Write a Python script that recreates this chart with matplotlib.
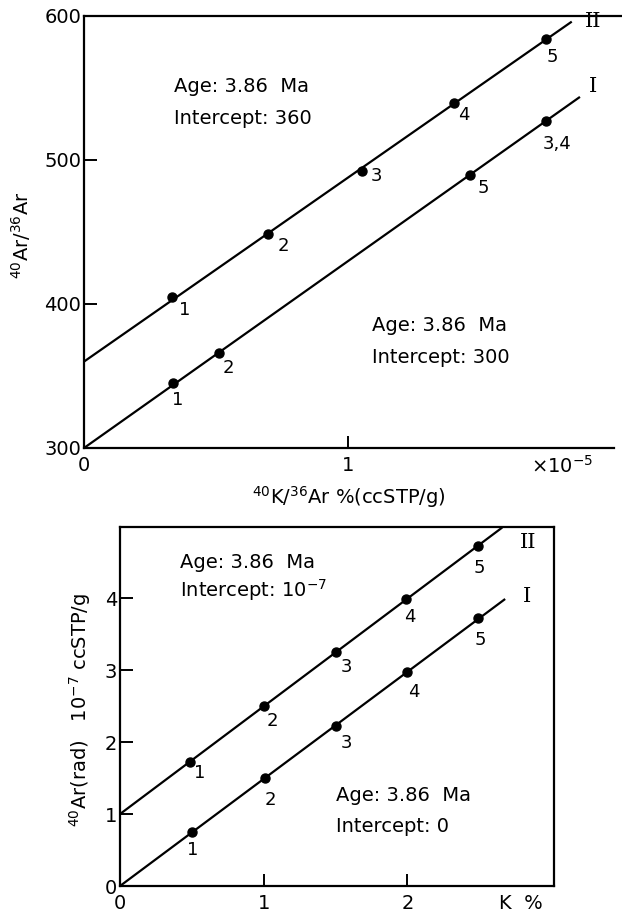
import numpy as np
import matplotlib
matplotlib.use("Agg")
import matplotlib.pyplot as plt

plt.rcParams['font.family'] = ['DejaVu Sans']

# ---------------- data: top panel (40Ar/36Ar vs 40K/36Ar) ----------------
top_II_x = [0.333, 0.697, 1.053, 1.40, 1.75]
top_II_y = [404.9, 448.6, 492.4, 539.6, 584.0]
top_II_labels = ["1", "2", "3", "4", "5"]
top_II_intercept = 360
top_II_xend = 1.848

top_I_x = [0.337, 0.511, 1.462, 1.75]
top_I_y = [345.1, 366.0, 489.6, 527.0]
top_I_labels = ["1", "2", "5", "3,4"]
top_I_intercept = 300
top_I_xend = 1.879

top_yticks = [300, 400, 500, 600]
top_xticks = [0, 1]

# ---------------- data: bottom panel (40Ar(rad) vs K %) ----------------
bot_II_x = [0.49, 1.0, 1.5, 1.99, 2.49]
bot_II_y = [1.72, 2.50, 3.25, 3.99, 4.72]
bot_II_labels = ["1", "2", "3", "4", "5"]
bot_II_intercept = 1.0
bot_II_xend = 2.66

bot_I_x = [0.50, 1.01, 1.50, 2.0, 2.49]
bot_I_y = [0.75, 1.50, 2.22, 2.97, 3.72]
bot_I_labels = ["1", "2", "3", "4", "5"]
bot_I_intercept = 0.0
bot_I_xend = 2.68

bot_yticks = [0, 1, 2, 3, 4]
bot_xticks = [0, 1, 2]

# label offsets (pixels) for point numbers
top_II_off = [(13, -13), (15, -12), (15, -5), (10, -12), (6, -18)]
top_I_off = [(5, -17), (9, -15), (13, -13), (11, -23)]
bot_II_off = [(9, -11), (9, -15), (11, -15), (4, -18), (1, -22)]
bot_I_off = [(1, -18), (5, -22), (11, -17), (6, -20), (2, -22)]

FS = 14
W, H = 622, 914
fig = plt.figure(figsize=(W / 100, H / 100), dpi=100)


def fit_slope(xs, ys, b):
    xs = np.asarray(xs)
    ys = np.asarray(ys) - b
    return float(np.sum(xs * ys) / np.sum(xs * xs))


def draw_series(ax, xs, ys, labels, offs, b, xend):
    m = fit_slope(xs, ys, b)
    lx = np.array([0, xend])
    ax.plot(lx, b + m * lx, color='black', lw=1.6, solid_capstyle='butt', clip_on=False)
    ax.plot(xs, ys, 'o', color='black', ms=6.5, clip_on=False)
    for x, y, t, o in zip(xs, ys, labels, offs):
        ax.annotate(t, (x, y), xytext=o, textcoords='offset pixels',
                    ha='center', va='center', fontsize=FS - 1)
    return m


# ---------------- top axes ----------------
ax1 = fig.add_axes([84 / W, 1 - 448 / H, (614 - 84) / W, (448 - 16) / H])
ax1.set_xlim(0, 2.008)
ax1.set_ylim(300, 600)
for s in ['left', 'bottom', 'top']:
    ax1.spines[s].set_linewidth(1.6)
ax1.spines['right'].set_visible(False)
ax1.spines['top'].set_bounds(0, 2.06)
ax1.set_yticks(top_yticks)
ax1.set_xticks(top_xticks)
ax1.set_yticklabels([str(v) for v in top_yticks], fontsize=FS)
ax1.set_xticklabels(["0", "1"], fontsize=FS)
ax1.tick_params(direction='in', length=9, width=1.4, pad=2)
ax1.tick_params(axis='x', pad=6)

draw_series(ax1, top_II_x, top_II_y, top_II_labels, top_II_off, top_II_intercept, top_II_xend)
draw_series(ax1, top_I_x, top_I_y, top_I_labels, top_I_off, top_I_intercept, top_I_xend)

ax1.text(1.93, 596, "II", fontsize=FS + 1, ha='center', va='center', family='DejaVu Serif')
ax1.text(1.93, 551, "I", fontsize=FS + 1, ha='center', va='center', family='DejaVu Serif')

ax1.text(0.34, 551, "Age: 3.86  Ma", fontsize=FS, ha='left', va='center')
ax1.text(0.34, 529, "Intercept: 360", fontsize=FS, ha='left', va='center')
ax1.text(1.09, 385, "Age: 3.86  Ma", fontsize=FS, ha='left', va='center')
ax1.text(1.09, 363, "Intercept: 300", fontsize=FS, ha='left', va='center')

ax1.text(1.81, -0.042, r"$\times10^{-5}$", transform=ax1.get_xaxis_transform(),
         fontsize=FS, ha='center', va='center')
ax1.set_xlabel(r"$^{40}$K/$^{36}$Ar %(ccSTP/g)", fontsize=FS, labelpad=6)
ax1.set_ylabel(r"$^{40}$Ar/$^{36}$Ar", fontsize=FS)
ax1.yaxis.set_label_coords(-0.096, 0.493)

# ---------------- bottom axes ----------------
ax2 = fig.add_axes([120 / W, 1 - 886 / H, (554 - 120) / W, (886 - 527) / H])
ax2.set_xlim(0, 3.02)
ax2.set_ylim(0, 4.99)
for s in ax2.spines.values():
    s.set_linewidth(1.6)
ax2.set_yticks(bot_yticks)
ax2.set_xticks(bot_xticks)
ax2.set_yticklabels([str(v) for v in bot_yticks], fontsize=FS)
ax2.set_xticklabels([str(v) for v in bot_xticks], fontsize=FS)
ax2.tick_params(direction='in', length=9, width=1.4, pad=2)
ax2.tick_params(axis='x', pad=6)

draw_series(ax2, bot_II_x, bot_II_y, bot_II_labels, bot_II_off, bot_II_intercept, bot_II_xend)
draw_series(ax2, bot_I_x, bot_I_y, bot_I_labels, bot_I_off, bot_I_intercept, bot_I_xend)

ax2.text(2.84, 4.78, "II", fontsize=FS + 1, ha='center', va='center', family='DejaVu Serif')
ax2.text(2.83, 4.03, "I", fontsize=FS + 1, ha='center', va='center', family='DejaVu Serif')

ax2.text(0.42, 4.50, "Age: 3.86  Ma", fontsize=FS, ha='left', va='center')
ax2.text(0.42, 4.11, r"Intercept: 10$^{-7}$", fontsize=FS, ha='left', va='center')
ax2.text(1.50, 1.26, "Age: 3.86  Ma", fontsize=FS, ha='left', va='center')
ax2.text(1.50, 0.83, "Intercept: 0", fontsize=FS, ha='left', va='center')

ax2.text(2.79, -0.05, "K  %", transform=ax2.get_xaxis_transform(),
         fontsize=FS, ha='center', va='center')
ax2.set_ylabel(r"$^{40}$Ar(rad)   10$^{-7}$ ccSTP/g", fontsize=FS)
ax2.yaxis.set_label_coords(-0.062, 0.49)

fig.savefig("out.png", dpi=100)
